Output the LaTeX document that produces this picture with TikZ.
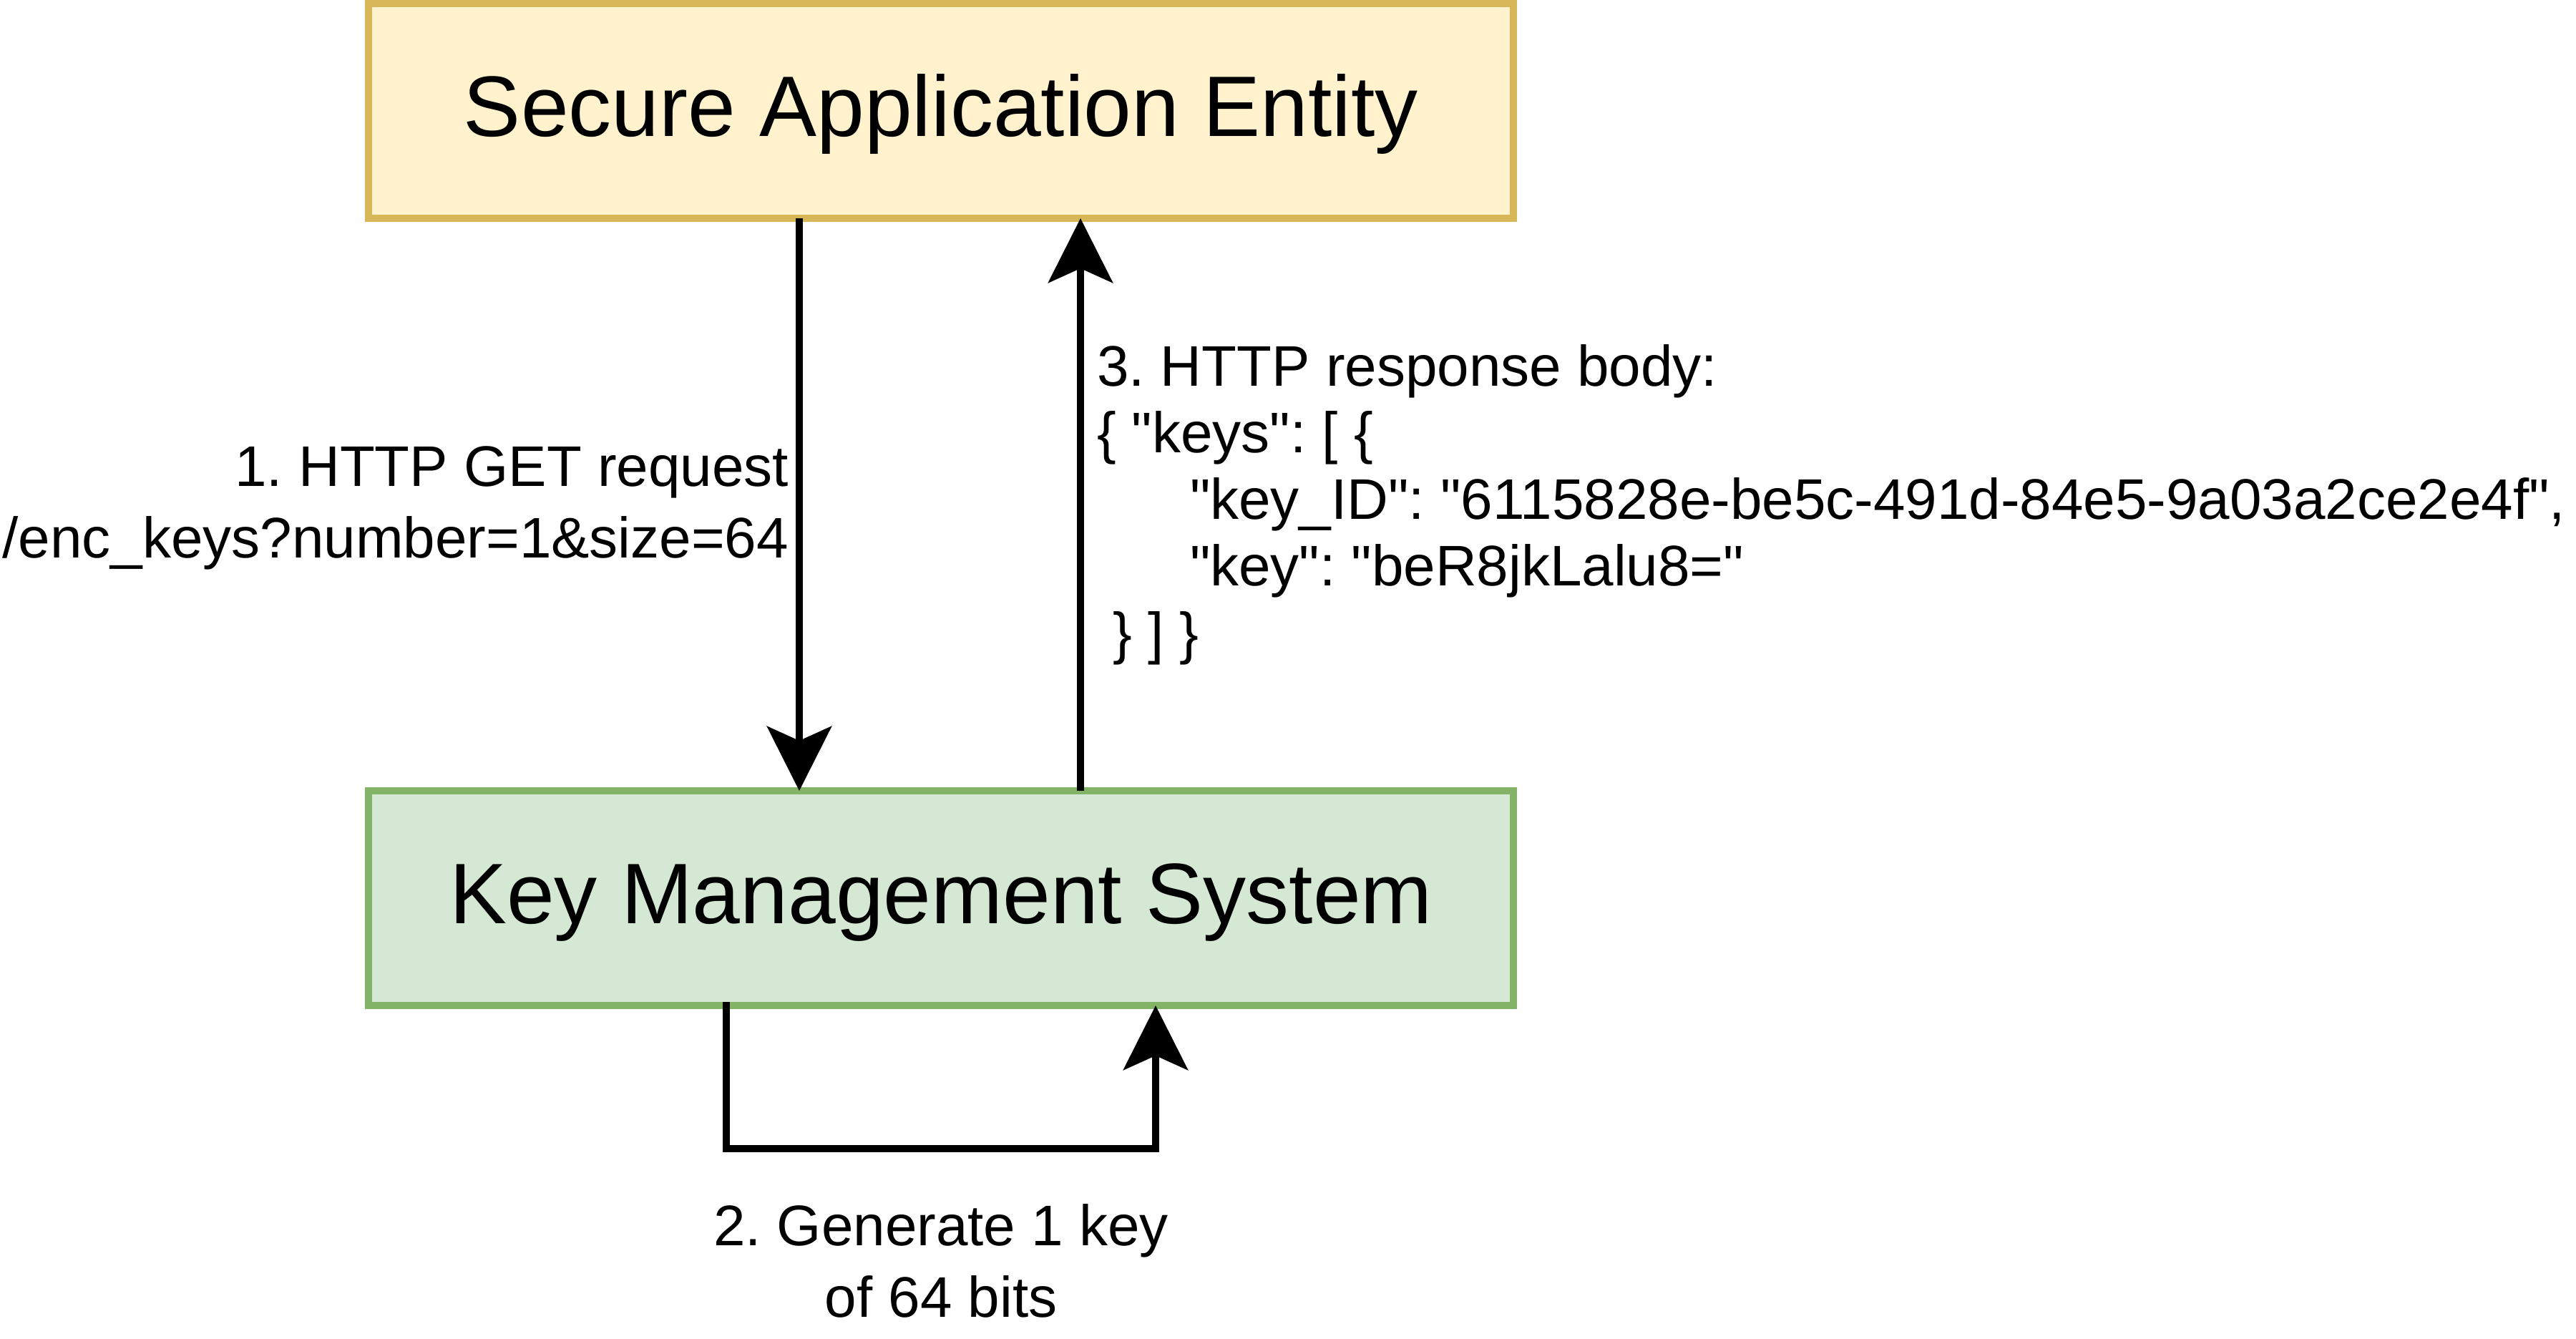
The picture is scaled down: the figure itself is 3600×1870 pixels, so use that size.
\documentclass[tikz,border=0pt]{standalone}
\usepackage{fontspec}
\setmainfont{Liberation Sans}[Ligatures=TeXOff]
\usetikzlibrary{arrows.meta}
\frenchspacing
\definecolor{yfill}{HTML}{FFF2CC}
\definecolor{ydraw}{HTML}{D6B656}
\definecolor{gfill}{HTML}{D5E8D4}
\definecolor{gdraw}{HTML}{82B366}
\tikzset{
  box/.style={rectangle, line width=2pt, minimum width=320pt, minimum height=60pt,
    inner sep=0pt, outer sep=0pt, text height=17.2pt, text depth=3.2pt,
    font=\fontsize{24}{28.8}\selectfont},
  sae/.style={box, fill=yfill, draw=ydraw},
  kms/.style={box, fill=gfill, draw=gdraw},
  conn/.style={line width=2pt, -{Stealth[length=18pt, width=18pt, inset=4pt]}},
  lbl/.style={inner sep=0pt, font=\fontsize{16}{20}\selectfont\frenchspacing}
}
\begin{document}
\begin{tikzpicture}[x=0.2pt, y=-0.2pt]
\useasboundingbox (0,0) rectangle (3600,1870);
\node[sae] (sae) at (1315,155) {Secure Application Entity};
\node[kms] (kms) at (1315,1255) {Key Management System};
\draw[conn] ([xshift=120.4pt]sae.south west) -- ([xshift=120.4pt]kms.north west);
\draw[conn] ([xshift=199pt]kms.north west) -- ([xshift=199pt]sae.south west);
\draw[conn, line cap=rect] ([xshift=100pt]kms.south west) -- ++(0,200) -| ([xshift=220pt]kms.south west);
\node[lbl, anchor=base east, align=right] (l1) at (1103,779)
  {1. HTTP GET request\\/enc\_keys?number=1\&size=64};
\node[lbl, anchor=base, align=center] (l2) at (1315,1840)
  {2. Generate 1 key\\of 64 bits};
\node[lbl, anchor=base west, align=left, font=\fontsize{16}{18.65}\selectfont\frenchspacing] (l3) at (1532,912)
  {3. HTTP response body:\\
   \{ "keys": [ \{\\
   \hspace*{26pt}"key\_ID": "6115828e-be5c-491d-84e5-9a03a2ce2e4f",\\
   \hspace*{26pt}"key": "beR8jkLalu8="\\
   \hspace*{4.5pt}\} ] \}};
\end{tikzpicture}
\end{document}
